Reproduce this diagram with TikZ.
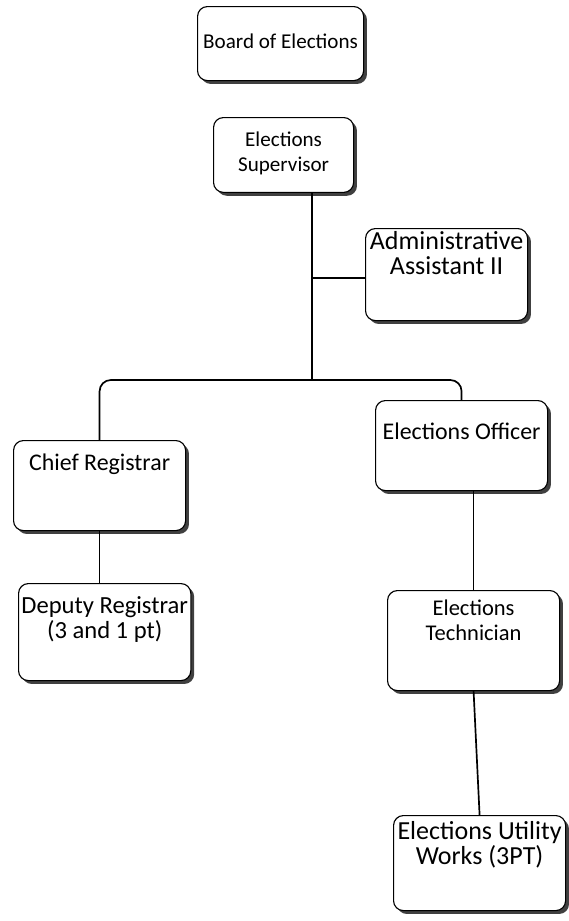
\documentclass[tikz,border=0pt]{standalone}
\usepackage{fontspec}
\setmainfont{Carlito}
\usetikzlibrary{shadows}

\tikzset{
  orgbox/.style={draw, line width=0.8pt, rounded corners=7pt, fill=white,
    anchor=north west, align=center, inner xsep=2pt, inner ysep=0pt,
    font=\fontsize{#1}{18}\selectfont,
    drop shadow={shadow xshift=2.4pt, shadow yshift=-2.4pt, fill=black!75, opacity=1}},
  orgbox/.default=15,
  orgline/.style={line width=1.2pt},
}

\begin{document}
\begin{tikzpicture}[x=0.025cm, y=-0.025cm]
    % Marco de la figura
    \useasboundingbox (0,0) rectangle (568,921);

    % Cajas del organigrama
    \node[orgbox, minimum width=4.15cm, text height=1.05cm, text depth=0.8cm] (board) at (197,6) {Board of Elections};
    \node[orgbox, minimum width=3.5cm, text height=1.355cm, text depth=0.515cm] (super) at (213,117) {Elections\\Supervisor};
    \node[orgbox=18.5, minimum width=4.05cm, text height=1.155cm, text depth=1.145cm] (assist) at (365,228) {Administrative\\Assistant II};
    \node[orgbox=17, minimum width=4.3cm, text height=0.75cm, text depth=1.5cm] (chief) at (13,440) {Chief Registrar};
    \node[orgbox=17, minimum width=4.3cm, text height=0.975cm, text depth=1.275cm] (officer) at (375,400) {Elections Officer};
    \node[orgbox=17.5, minimum width=4.3cm, text height=1.385cm, text depth=1.04cm] (deputy) at (18,583) {Deputy Registrar\\(3 and 1 pt)};
    \node[orgbox=16, minimum width=4.3cm, text height=1.26cm, text depth=1.24cm] (tech) at (387,590) {Elections\\Technician};
    \node[orgbox=18.5, minimum width=4.3cm, text height=1.235cm, text depth=1.14cm] (utility) at (393,815) {Elections Utility\\Works (3PT)};

    % Puntos de union
    \coordinate (trunk) at (312,192);
    \coordinate (split) at (312,380);
    \coordinate (assistjoin) at (312,278);

    % Conectores
    \draw[orgline] (trunk) -- (split);
    \draw[orgline] (assistjoin) -- (assistjoin -| assist.west);
    \draw[orgline, rounded corners=8pt] (split) -| (chief.north);
    \draw[orgline, rounded corners=8pt] (split) -| (officer.north);
    \draw[orgline] (chief.south) -- (chief.south |- deputy.north);
    \draw[orgline] (tech.north |- officer.south) -- (tech.north);
    \draw[orgline] (tech.south) -- (utility.north);
\end{tikzpicture}
\end{document}
